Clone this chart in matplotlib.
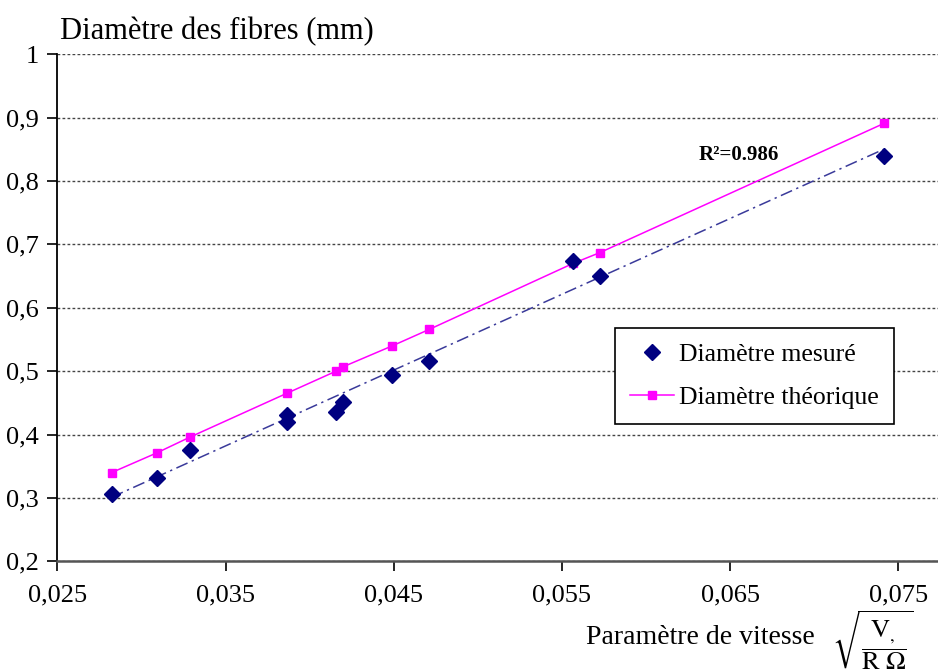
import numpy as np
import matplotlib
matplotlib.use("Agg")
import matplotlib.pyplot as plt
from matplotlib.ticker import FuncFormatter

# values
vitesse = [0.02823, 0.03091, 0.03289, 0.03864, 0.03864, 0.04157, 0.04200,
           0.04492, 0.04712, 0.05566, 0.05725, 0.07415]
diam_mesure = [0.306, 0.331, 0.375, 0.431, 0.420, 0.436, 0.452,
               0.494, 0.516, 0.674, 0.650, 0.839]

vitesse_theo = [0.02823, 0.03091, 0.03289, 0.03864, 0.04157, 0.04200,
                0.04492, 0.04712, 0.05566, 0.05725, 0.07415]
diam_theo = [0.340, 0.371, 0.396, 0.465, 0.500, 0.507,
             0.540, 0.566, 0.670, 0.687, 0.891]

x_ticks = [0.025, 0.035, 0.045, 0.055, 0.065, 0.075]
y_ticks = [0.2, 0.3, 0.4, 0.5, 0.6, 0.7, 0.8, 0.9, 1.0]
r2_label = "R²=0.986"

plt.rcParams['font.family'] = ['Liberation Serif', 'DejaVu Serif']
plt.rcParams['mathtext.fontset'] = 'stix'

W, H = 938, 671
fig = plt.figure(figsize=(W / 100, H / 100), dpi=100)
ax = fig.add_axes([57.3 / W, 1 - 561.3 / H, (W - 57.3) / W, (561.3 - 54.3) / H])

ax.set_xlim(0.025, 0.07736)
ax.set_ylim(0.2, 1.0)
ax.set_xticks(x_ticks)
ax.set_yticks(y_ticks)

comma = lambda fmt: FuncFormatter(lambda v, p: (fmt % v).replace('.', ','))
ax.xaxis.set_major_formatter(comma('%.3f'))
ax.yaxis.set_major_formatter(FuncFormatter(lambda v, p: '1' if abs(v - 1) < 1e-9 else ('%.1f' % v).replace('.', ',')))

ax.tick_params(axis='both', direction='out', length=7, width=1.2, labelsize=19, pad=6)
ax.tick_params(axis='x', pad=10)
for s in ['top', 'right']:
    ax.spines[s].set_visible(False)
ax.spines['left'].set_color('black')
ax.spines['bottom'].set_color('#555555')
ax.spines['left'].set_linewidth(1.3)
ax.spines['bottom'].set_linewidth(1.8)

ax.yaxis.grid(True, linestyle=(0, (2, 1.6)), color='#444444', linewidth=1)
ax.set_axisbelow(True)

# trendline on measured values
a, b = np.polyfit(vitesse, diam_mesure, 1)
xs = np.array([min(vitesse), max(vitesse)])
ax.plot(xs, a * xs + b, color='#3a3a9a', linewidth=1.1, linestyle=(0, (8, 3, 1.5, 3)), zorder=2)

ax.plot(vitesse_theo, diam_theo, color='#ff00ff', linewidth=1.1, marker='s',
        markersize=5.5, label='Diamètre théorique', zorder=3)
ax.plot(vitesse, diam_mesure, linestyle='none', marker='D', color='#000080',
        markersize=8, label='Diamètre mesuré', zorder=4)

ax.text(739 / W, 1 - 155 / H, r2_label, transform=fig.transFigure, fontsize=15,
        fontweight='bold', ha='center', va='center')

handles, labels = ax.get_legend_handles_labels()
leg = ax.legend(handles[::-1], labels[::-1], loc='upper left',
                bbox_to_anchor=(615 / W, 1 - 328 / H), bbox_transform=fig.transFigure,
                fancybox=False, framealpha=1, edgecolor='black', fontsize=18.5,
                handlelength=1.7, handletextpad=0.2, borderpad=0.6, labelspacing=0.75,
                borderaxespad=0)
leg.get_frame().set_linewidth(1.2)

fig.text(60 / W, 1 - 32 / H, 'Diamètre des fibres (mm)', fontsize=22, ha='left', va='center')
fig.text(815 / W, 1 - 637 / H, 'Paramètre de vitesse', fontsize=20, ha='right', va='center')
fig.text(832 / W, 1 - 640 / H, r'$\sqrt{\dfrac{\mathrm{V}_{,}}{\mathrm{R}\ \Omega}}$',
         fontsize=19, ha='left', va='center')

fig.savefig('out.png', dpi=100)
